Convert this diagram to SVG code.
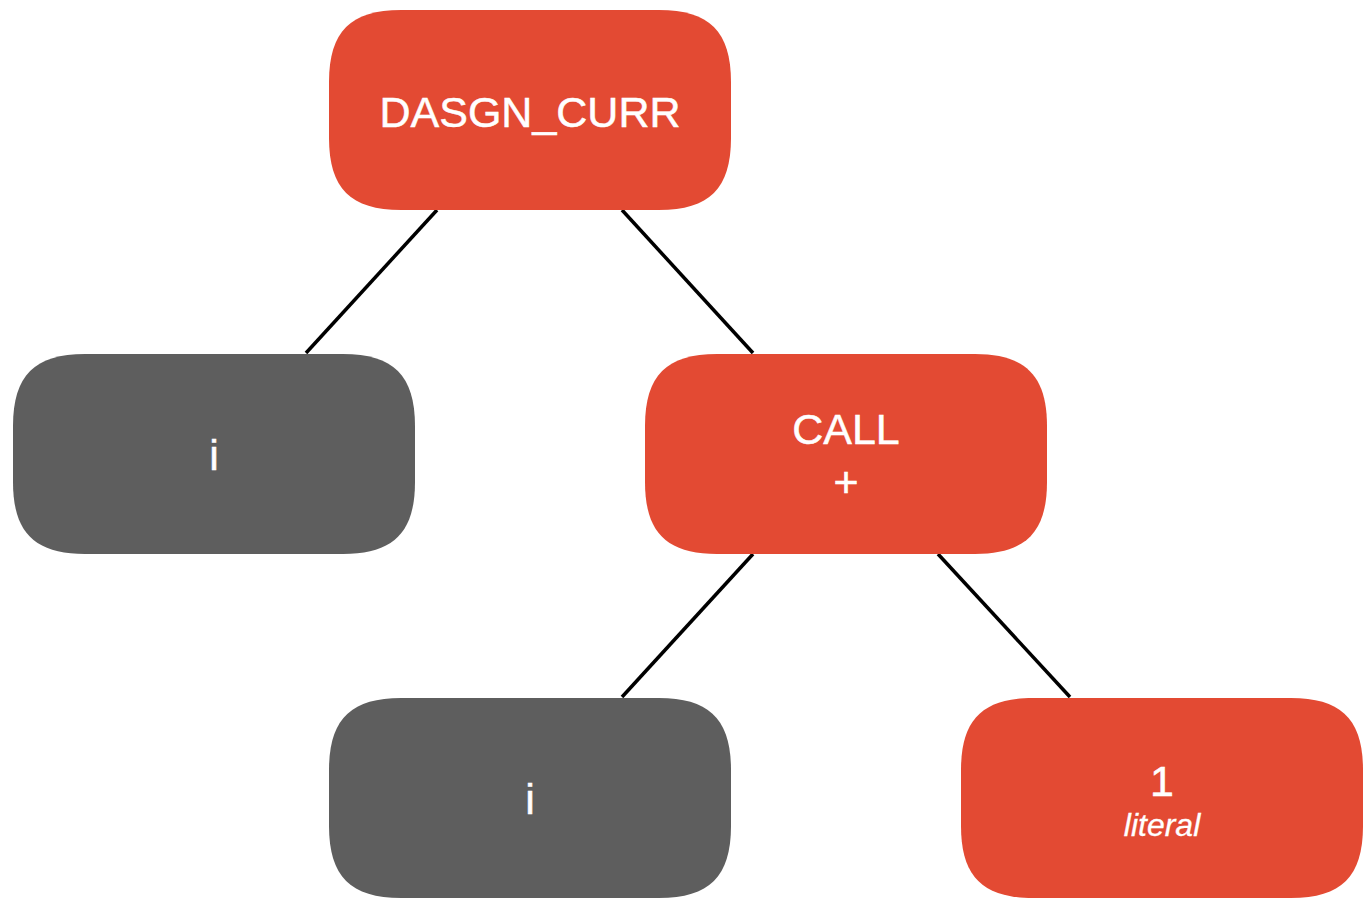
<svg xmlns="http://www.w3.org/2000/svg" xmlns:xlink="http://www.w3.org/1999/xlink" width="1372" height="914" viewBox="0 0 1372 914">
  <defs>
    <path id="shape" d="M72,0 H330 C380.4,0 402,21.6 402,72 V128 C402,178.4 380.4,200 330,200 H72 C21.6,200 0,178.4 0,128 V72 C0,21.6 21.6,0 72,0 Z"/>
  </defs>
  <style>
    .red { fill: #E34A33; }
    .gray { fill: #5E5E5E; }
    .lbl { fill: #FFFFFF; stroke: #FFFFFF; stroke-width: 0.5; font-family: "Liberation Sans", Arial, sans-serif; font-size: 43px; text-anchor: middle; }
    .sub { fill: #FFFFFF; stroke: #FFFFFF; stroke-width: 0.3; font-family: "Liberation Sans", Arial, sans-serif; font-size: 32px; font-style: italic; text-anchor: middle; }
    .edge { stroke: #000000; stroke-width: 3.5; fill: none; }
  </style>
  <rect width="1372" height="914" fill="#FFFFFF"/>
  <g id="connectors">
    <line class="edge" x1="437" y1="210" x2="306" y2="353"/>
    <line class="edge" x1="622" y1="210" x2="753" y2="353"/>
    <line class="edge" x1="753" y1="554" x2="622" y2="697"/>
    <line class="edge" x1="938" y1="554" x2="1070" y2="697"/>
  </g>
  <g id="node-dasgn">
    <use xlink:href="#shape" href="#shape" class="red" x="329" y="10"/>
    <text class="lbl" x="530" y="127">DASGN_CURR</text>
  </g>
  <g id="node-i-left">
    <use xlink:href="#shape" href="#shape" class="gray" x="13" y="354"/>
    <text class="lbl" x="214" y="470">i</text>
  </g>
  <g id="node-call">
    <use xlink:href="#shape" href="#shape" class="red" x="645" y="354"/>
    <text class="lbl" x="846" y="444">CALL</text>
    <text class="lbl" x="846" y="497">+</text>
  </g>
  <g id="node-i-bottom">
    <use xlink:href="#shape" href="#shape" class="gray" x="329" y="698"/>
    <text class="lbl" x="530" y="814">i</text>
  </g>
  <g id="node-literal">
    <use xlink:href="#shape" href="#shape" class="red" x="961" y="698"/>
    <text class="lbl" x="1162" y="796">1</text>
    <text class="sub" x="1162" y="836">literal</text>
  </g>
</svg>
